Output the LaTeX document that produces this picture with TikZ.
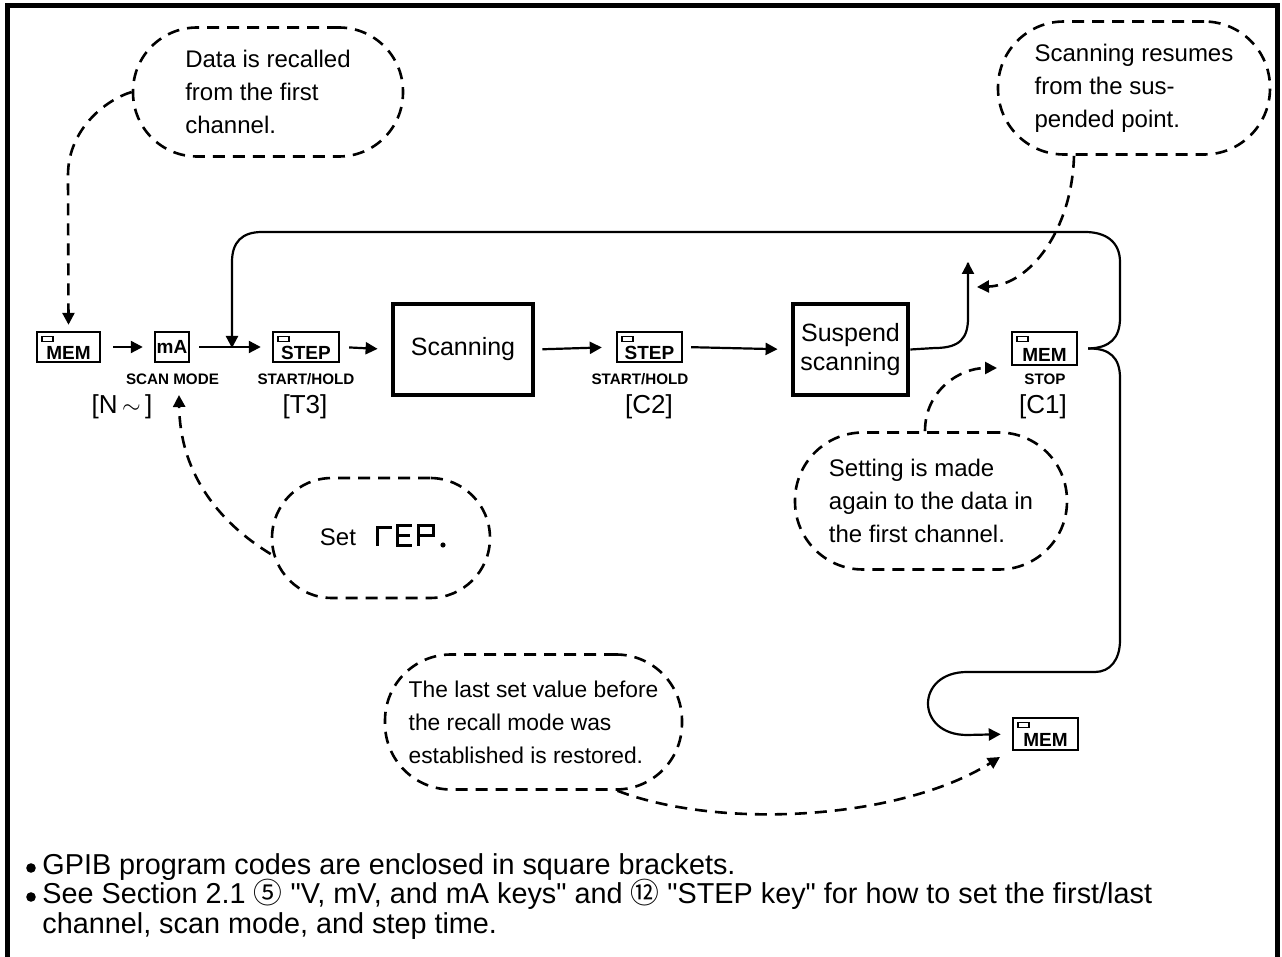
\documentclass[tikz,border=0pt]{standalone}
\usepackage{fontspec}
\setmainfont{Liberation Sans}
\newfontfamily\symfont{DejaVu Sans}
\newfontfamily\cjk{Noto Sans CJK JP}
\usetikzlibrary{arrows.meta}
\begin{document}
\begin{tikzpicture}[x=0.5pt,y=-0.5pt,
  frame/.style={line width=2.5pt},
  keyb/.style={draw, line width=1.2pt, minimum height=15pt, inner sep=0pt},
  keytxt/.style={font=\bfseries\fontsize{9.5}{9.5}\selectfont, inner sep=0pt, anchor=base},
  bigbox/.style={draw, line width=2.4pt, minimum width=70pt, minimum height=45.5pt, font=\fontsize{12.5}{14.5}\selectfont, align=center},
  callout/.style={draw, line width=1.3pt, dash pattern=on 6pt off 4pt, rounded corners=32pt, align=left, font=\fontsize{12}{16.5}\selectfont, inner sep=0pt},
  lbl/.style={font=\bfseries\fontsize{7.6}{8}\selectfont, inner sep=0pt},
  code/.style={font=\fontsize{13}{14}\selectfont, inner sep=0pt},
  flow/.style={line width=1.1pt, -{Triangle[length=6pt,width=6pt]}},
  lead/.style={line width=1.3pt, dash pattern=on 6pt off 4pt, -{Triangle[length=6pt,width=6pt]}},
  seg/.style={line width=1.5pt},
  note/.style={font=\fontsize{14.4}{15}\selectfont, inner sep=0pt, anchor=base west},
  ]
\useasboundingbox (0,0) rectangle (1282,957);
% frame
\draw[frame] (7,960) -- (7,6) -- (1277,6) -- (1277,960);

% keys
\node[keyb, minimum width=31.5pt] (mem1) at (68.5,347) {};
\node[keyb, minimum width=17pt] (ma) at (172,347) {};
\node[keyb, minimum width=33pt] (st1) at (306,347) {};
\node[bigbox] (scan) at (463,349.5) {Scanning};
\node[keyb, minimum width=32.5pt] (st2) at (649.5,347) {};
\node[bigbox, minimum width=57.5pt] (susp) at (850.5,349.5) {Suspend\\scanning};
\node[keyb, minimum width=32.5pt, minimum height=16.5pt] (mst) at (1044.5,348.5) {};
\node[keyb, minimum width=32.5pt, minimum height=16pt] (mem3) at (1045.5,734) {};

% key texts
\node[keytxt] (mem1t) at ([yshift=2pt]mem1.south) {MEM};
\node[keytxt, anchor=center] (mat) at (ma.center) {mA};
\node[keytxt] (st1t) at ([yshift=2pt]st1.south) {STEP};
\node[keytxt] (st2t) at ([yshift=2pt]st2.south) {STEP};
\node[keytxt] (mstt) at ([yshift=2.2pt]mst.south) {MEM};
\node[keytxt] (mem3t) at ([yshift=2.2pt]mem3.south) {MEM};
% indicators
\foreach \k in {mem1,st1,st2,mst,mem3}
  \draw[line width=0.8pt] ([xshift=3pt,yshift=-2.8pt]\k.north west) rectangle ++(5.5pt,-2.6pt);

% labels
\node[lbl] (l1) at (172.5,379) {SCAN MODE};
\node[lbl] (l2) at (306,379) {START/HOLD};
\node[lbl] (l3) at (640,379) {START/HOLD};
\node[lbl] (l4) at (1045,379) {STOP};
\node[code] (c1) at (122,407) {[N\,$\sim$\,]};
\node[code] (c2) at (305,407) {[T3]};
\node[code] (c3) at (649,407) {[C2]};
\node[code] (c4) at (1043,407) {[C1]};

% flow arrows
\draw[flow, shorten <=6pt, shorten >=5.5pt] (mem1.east) -- (ma.west);
\draw[flow, shorten <=4.5pt, shorten >=5.5pt] (ma.east) -- (st1.west);
\draw[flow, shorten <=4.5pt, shorten >=6.5pt] (st1.east) -- (scan.west);
\draw[flow, shorten <=3.5pt, shorten >=7pt] (scan.east) -- (st2.west);
\draw[flow, shorten <=4pt, shorten >=6.5pt] (st2.east) -- (susp.west);

% loops
\coordinate (j1) at (232,348);
\coordinate (bp) at ([xshift=5pt]mst.east);
\coordinate (up) at (968,263);
\draw[line width=1.1pt] (susp.east) -- (935,348) .. controls (960,348) and (968,338) .. (968,318) -- (up);
\draw[flow] (up) -- ++(0,-1);
\draw[flow] (bp) .. controls (1110,348) and (1120,338) .. (1120,318) -- (1120,262)
  .. controls (1120,242) and (1106,232) .. (1085,232) -- (262,232)
  .. controls (242,232) and (232,242) .. (232,262) -- (j1);
\draw[flow, shorten >=5.5pt] (bp) .. controls (1110,348) and (1120,358) .. (1120,378) -- (1120,640)
  .. controls (1120,660) and (1110,672) .. (1095,672) -- (967,672)
  .. controls (915,672) and (915,735) .. (967,735) -- (mem3.west);

% callouts
\node[callout, minimum width=135pt, minimum height=64.5pt] (co1) at (268,92)
  {Data is recalled\\from the first\\channel.};
\node[callout, minimum width=136pt, minimum height=66.5pt, rounded corners=33pt] (co2) at (1134,88)
  {Scanning resumes\\from the sus-\\pended point.};
\node[callout, minimum width=109pt, minimum height=60pt, rounded corners=30pt] (co3) at (381,538) {};
\node[callout, minimum width=136pt, minimum height=68.5pt, rounded corners=34pt] (co4) at (931,501)
  {Setting is made\\again to the data in\\the first channel.};
\node[callout, minimum width=148.5pt, minimum height=67.5pt, rounded corners=33pt, font=\fontsize{11.4}{16.5}\selectfont] (co5) at (533.5,722)
  {The last set value before\\the recall mode was\\established is restored.};

% Set rEP.
\node[font=\fontsize{12}{14}\selectfont, inner sep=0pt] (settxt) at (338,537) {Set};
\draw[seg] (377,546) -- (377,528) -- (392,528);
\draw[seg] (412,526) -- (397,526) -- (397,546) -- (412,546) (397,536) -- (410,536);
\draw[seg] (418,546) -- (418,526) -- (433,526) -- (433,536) -- (418,536);
\fill (443,545) circle (1.3pt);

% leaders
\draw[lead] (co1.west) .. controls (105,100) and (68,130) .. (68,175) -- ([yshift=3pt]mem1.north);
\draw[lead] ([yshift=-8pt]co3.west) .. controls (215,520) and (180,470) .. (179,395);
\draw[lead] ([xshift=-30pt]co2.south) .. controls (1072,230) and (1030,285) .. (977,287);
\draw[lead] ([xshift=-3pt]co4.north) .. controls (925,390) and (960,368) .. (997,368);
\draw[lead] ([xshift=42pt]co5.south) .. controls (720,830) and (900,820) .. (1000,757);

% notes
\fill (31,868) circle (2.4pt);
\node[note] (n1) at (42,874) {GPIB program codes are enclosed in square brackets.};
\fill (31,897) circle (2.4pt);
\node[note] (n2) at (42,903) {See Section 2.1 {\cjk ⑤} \textquotedbl V, mV, and mA keys\textquotedbl{} and {\cjk ⑫} \textquotedbl STEP key\textquotedbl{} for how to set the first/last};
\node[note] (n3) at (42,933) {channel, scan mode, and step time.};
\end{tikzpicture}
\end{document}
